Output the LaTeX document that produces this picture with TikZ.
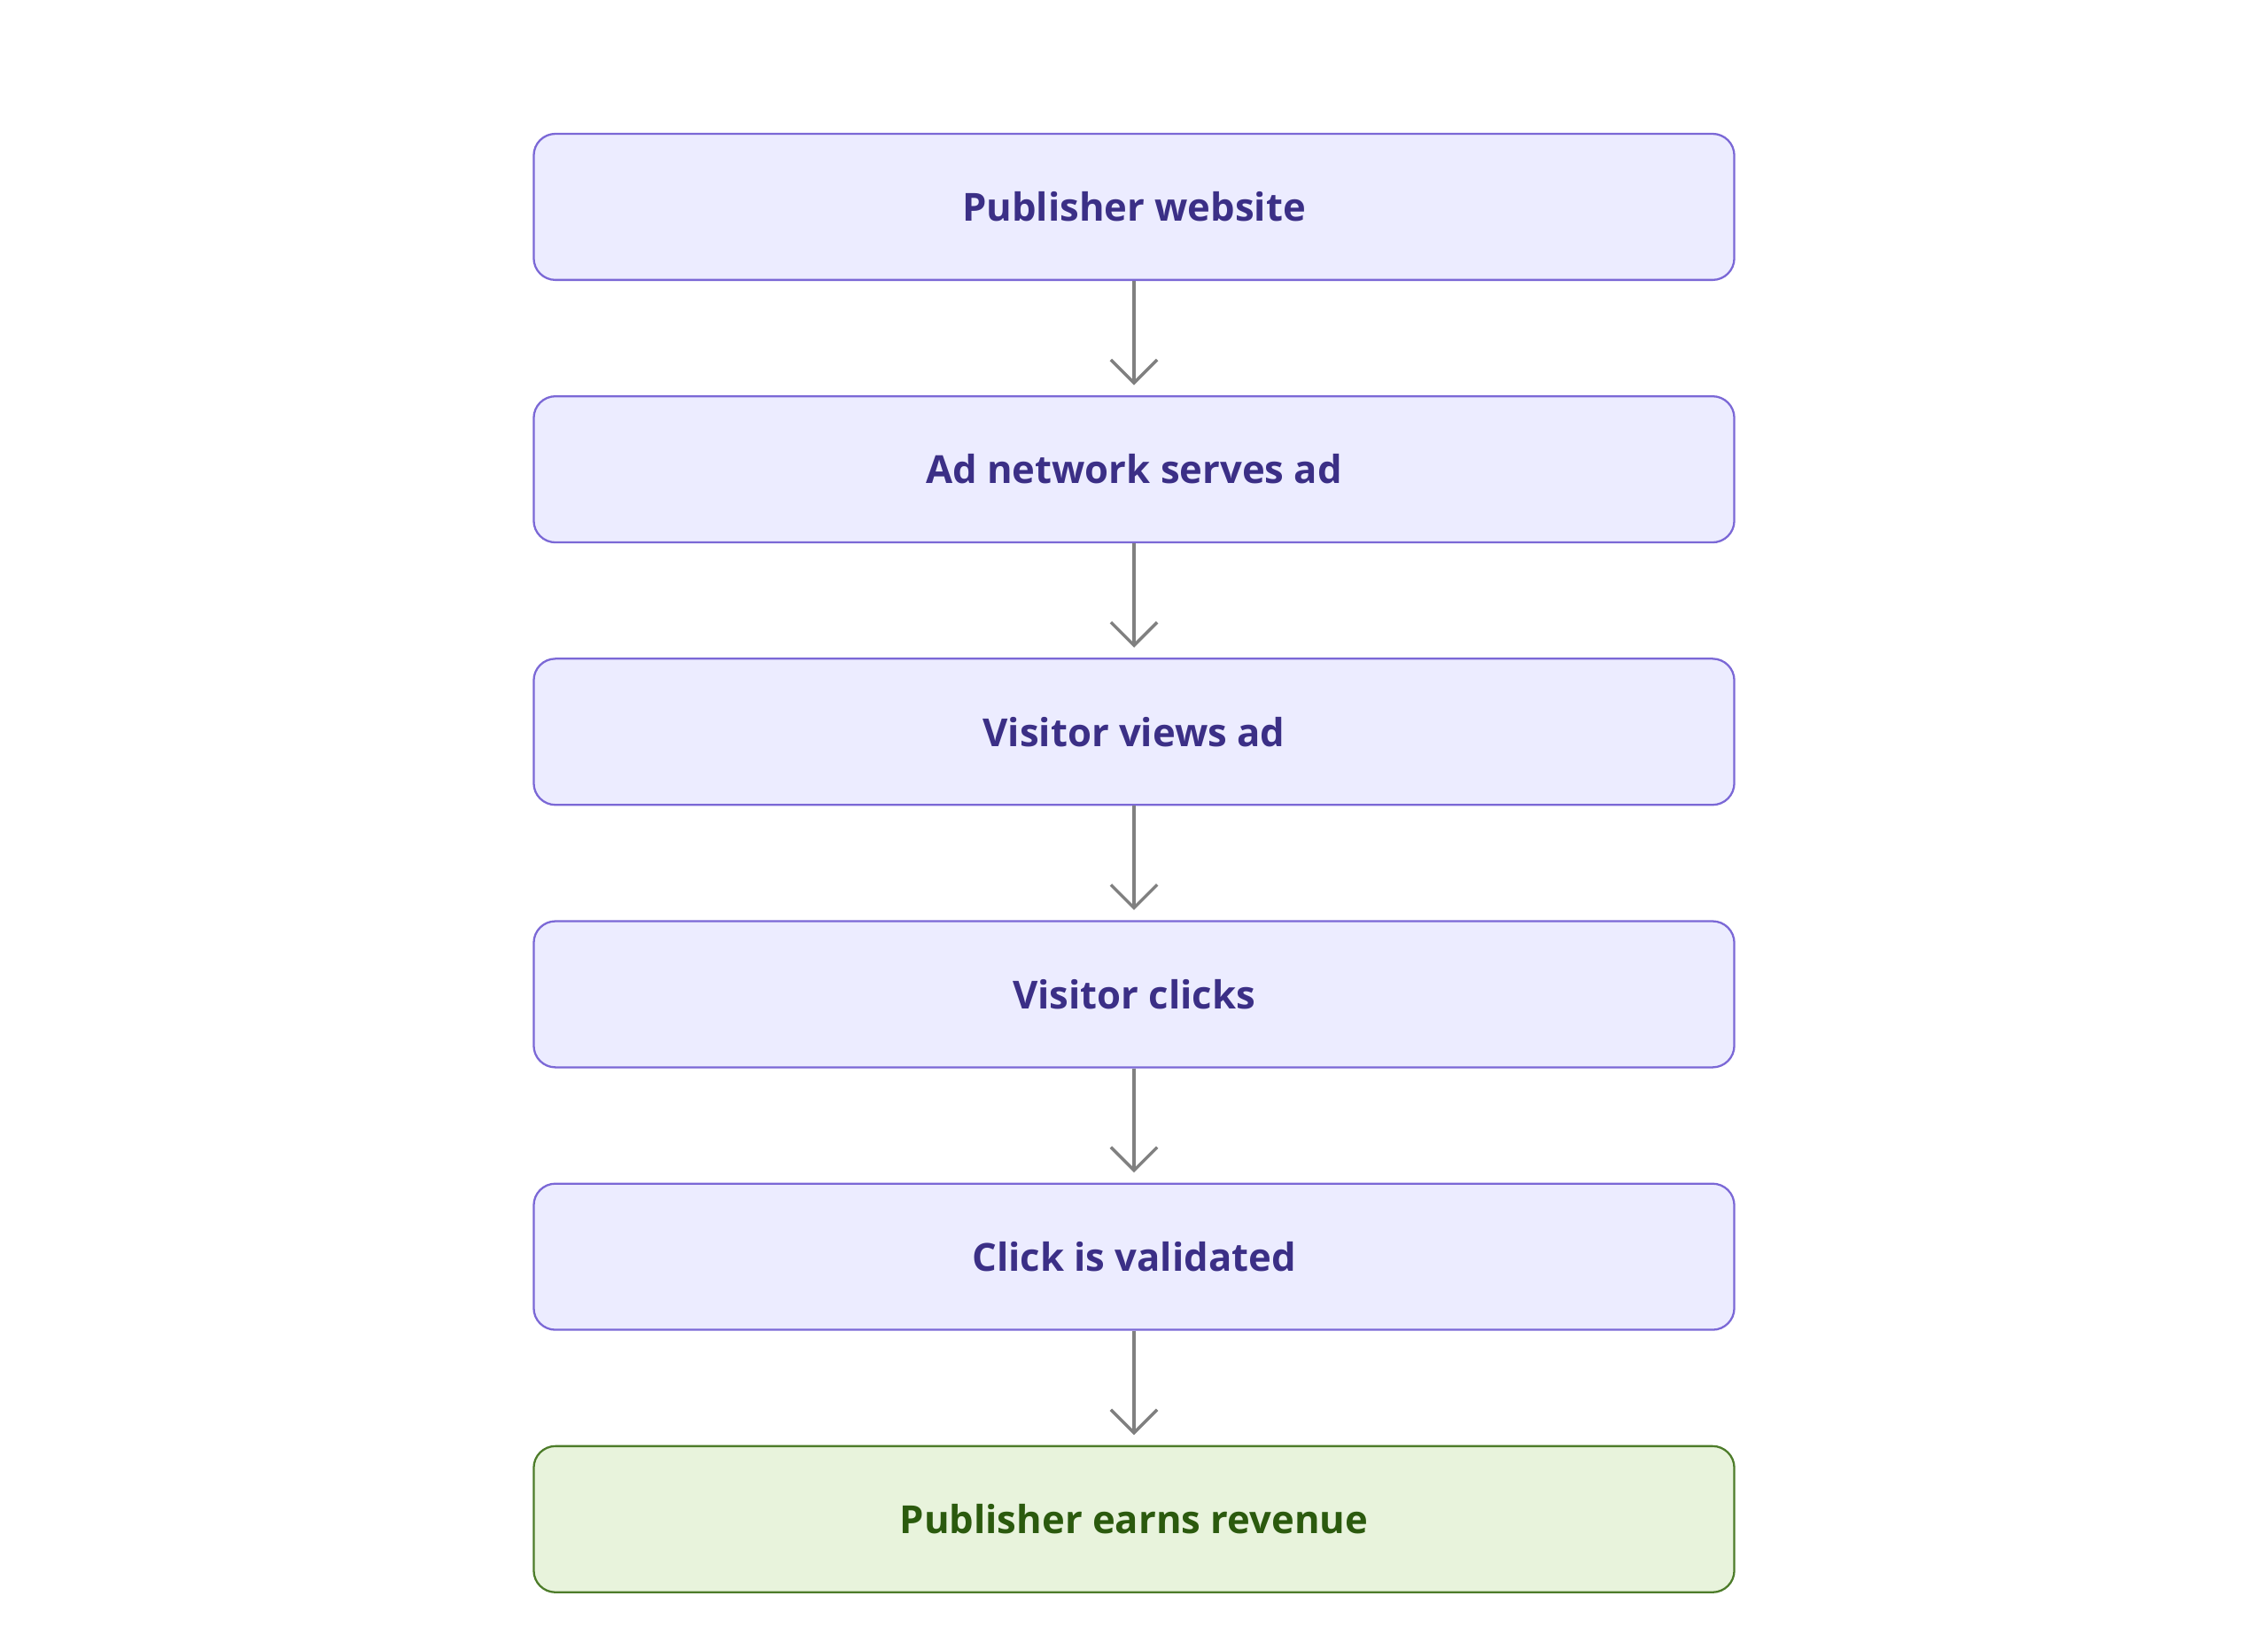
\documentclass[tikz,border=0pt]{standalone}
\usepackage{fontspec}
\setmainfont{Open Sans}
\usetikzlibrary{positioning,arrows.meta}
\definecolor{boxfill}{HTML}{ECECFF}
\definecolor{boxline}{HTML}{7B68D6}
\definecolor{boxtext}{HTML}{3B2F86}
\definecolor{endfill}{HTML}{E8F3DC}
\definecolor{endline}{HTML}{4D7C2A}
\definecolor{endtext}{HTML}{2B5A0E}
\tikzset{
  stage/.style={rectangle, rounded corners=0.15cm, draw=boxline, fill=boxfill, text=boxtext,
    minimum width=8.3cm, minimum height=1.01cm, font=\fontsize{7.6}{9}\selectfont\bfseries},
  final/.style={stage, draw=endline, fill=endfill, text=endtext},
  flow/.style={draw=gray, line width=0.6pt, -{Straight Barb[length=1.6mm,width=3.2mm]}, shorten >=0.07cm}
}
\begin{document}
\begin{tikzpicture}
    \useasboundingbox (0,0) rectangle (15.68,-11.30);

    % Nodes
    \node[stage] (site) at (7.84,-1.43) {Publisher website};
    \node[stage, below=0.79cm of site] (serve) {Ad network serves ad};
    \node[stage, below=0.79cm of serve] (view) {Visitor views ad};
    \node[stage, below=0.79cm of view] (click) {Visitor clicks};
    \node[stage, below=0.79cm of click] (valid) {Click is validated};
    \node[final, below=0.79cm of valid] (earn) {Publisher earns revenue};

    % Arrows
    \foreach \a/\b in {site/serve, serve/view, view/click, click/valid, valid/earn}
      \draw[flow] (\a) -- (\b);
\end{tikzpicture}
\end{document}
